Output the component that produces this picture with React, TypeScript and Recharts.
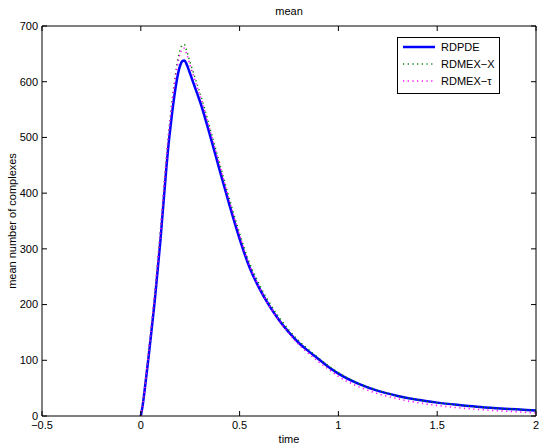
import React from 'react';
import { LineChart, Line, XAxis, YAxis, Legend } from 'recharts';

// sample times
const times = [
  0, 0.01, 0.02, 0.03, 0.04, 0.05, 0.06, 0.07, 0.08, 0.09, 0.1, 0.11, 0.12, 0.13, 0.14, 0.15,
  0.16, 0.17, 0.18, 0.19, 0.2, 0.21, 0.22, 0.23, 0.24, 0.25, 0.26, 0.27, 0.28, 0.29, 0.3,
  0.35, 0.4, 0.45, 0.5, 0.55, 0.6, 0.65, 0.7, 0.75, 0.8, 0.85, 0.9, 0.95, 1.0,
  1.1, 1.2, 1.3, 1.4, 1.5, 1.6, 1.7, 1.8, 1.9, 2.0,
];

const rdpde = [
  0, 20, 48, 78, 108, 140, 172, 205, 242, 280, 318, 362, 405, 448, 486, 518,
  548, 575, 598, 617, 630, 637, 638, 633, 624, 614, 604, 594, 584, 574, 564,
  504, 440, 377, 318, 267, 229, 198, 172, 150, 131, 116, 102, 88, 76,
  58, 45, 36, 29, 24, 20, 16.5, 14, 12, 10,
];

const rdmexX = [
  0, 24, 52, 85, 116, 150, 183, 218, 256, 296, 336, 380, 424, 466, 505, 540,
  572, 600, 625, 645, 658, 666, 667, 658, 646, 634, 623, 612, 601, 590, 579,
  517, 452, 388, 328, 275, 236, 204, 177, 154, 135, 119, 104, 90, 78,
  59, 46, 36, 29, 24, 20, 16.5, 14, 12, 10,
];

const rdmexTau = [
  0, 22, 50, 83, 114, 148, 181, 215, 253, 292, 332, 376, 420, 462, 501, 535,
  566, 594, 618, 638, 651, 659, 660, 652, 641, 629, 618, 607, 596, 585, 575,
  513, 449, 384, 324, 270, 230, 198, 171, 148, 128, 112, 97, 84, 71,
  53, 40, 31, 24, 19, 15, 12, 9.5, 7.5, 5.5,
];

const xTicks = [-0.5, 0, 0.5, 1, 1.5, 2];
const yTicks = [0, 100, 200, 300, 400, 500, 600, 700];

const data = times.map((t, i) => ({
  t,
  pde: rdpde[i],
  mexX: rdmexX[i],
  mexTau: rdmexTau[i],
}));

const FONT = '"Liberation Sans", Arial, Helvetica, sans-serif';
const tickStyle = { fontSize: 11, fill: '#000', fontFamily: FONT };
const noLabel = () => '';

const LegendBox = () => (
  <svg width={104} height={58} style={{ display: 'block' }}>
    <rect x={0.5} y={0.5} width={102} height={56} fill="#fff" stroke="#000" strokeWidth={1} />
    <line x1={6} x2={38} y1={10} y2={10} stroke="#0000ff" strokeWidth={2.5} />
    <line x1={6} x2={38} y1={27} y2={27} stroke="#008000" strokeWidth={1.5} strokeDasharray="1.2 3.5" />
    <line x1={6} x2={38} y1={44} y2={44} stroke="#ff00ff" strokeWidth={1.5} strokeDasharray="1.2 3.5" />
    <text x={44} y={14} fontSize={11} fontFamily={FONT} fill="#000">RDPDE</text>
    <text x={44} y={31} fontSize={11} fontFamily={FONT} fill="#000">RDMEX−X</text>
    <text x={44} y={48} fontSize={11} fontFamily={FONT} fill="#000">RDMEX−τ</text>
  </svg>
);

export default function App() {
  return (
    <div style={{ position: 'absolute', left: 0, top: 0, width: 545, height: 448, background: '#fff' }}>
      <div
        style={{
          position: 'absolute', left: 42, width: 494, top: 4, textAlign: 'center',
          fontFamily: FONT, fontSize: 11, lineHeight: '14px', color: '#000',
        }}
      >
        mean
      </div>
      <LineChart width={545} height={448} data={data} margin={{ top: 25, right: 8, left: 0, bottom: 0 }}>
        <XAxis
          xAxisId="bottom"
          dataKey="t"
          type="number"
          domain={[-0.5, 2]}
          ticks={xTicks}
          allowDataOverflow
          height={32}
          tickSize={-5}
          tickMargin={10}
          tick={tickStyle}
          stroke="#000"
          tickFormatter={(v: number) => String(v).replace('-', '−')}
          label={{ value: 'time', position: 'insideBottom', offset: 5, style: { fontSize: 11, fontFamily: FONT, fill: '#000' } }}
        />
        <XAxis
          xAxisId="top"
          orientation="top"
          dataKey="t"
          type="number"
          domain={[-0.5, 2]}
          ticks={xTicks}
          allowDataOverflow
          height={1}
          tickSize={-5}
          tick={tickStyle}
          tickFormatter={noLabel}
          stroke="#000"
        />
        <YAxis
          yAxisId="left"
          type="number"
          domain={[0, 700]}
          ticks={yTicks}
          allowDataOverflow
          width={42}
          tickSize={-5}
          tickMargin={9}
          tick={tickStyle}
          stroke="#000"
          label={{
            value: 'mean number of complexes', angle: -90, position: 'insideLeft', offset: 12,
            style: { textAnchor: 'middle', fontSize: 11, fontFamily: FONT, fill: '#000' },
          }}
        />
        <YAxis
          yAxisId="right"
          orientation="right"
          type="number"
          domain={[0, 700]}
          ticks={yTicks}
          allowDataOverflow
          width={1}
          tickSize={-5}
          tick={tickStyle}
          tickFormatter={noLabel}
          stroke="#000"
        />
        <Legend
          layout="vertical"
          align="center"
          verticalAlign="middle"
          content={() => <LegendBox />}
          wrapperStyle={{ left: 397, top: 37, width: 104, height: 58 }}
        />
        {/* blue series sits on the top/right axes (same domains) so the box frame renders */}
        <Line
          xAxisId="top"
          yAxisId="right"
          dataKey="pde"
          name="RDPDE"
          type="monotone"
          stroke="#0000ff"
          strokeWidth={2.5}
          dot={false}
          isAnimationActive={false}
        />
        <Line
          xAxisId="bottom"
          yAxisId="left"
          dataKey="mexX"
          name="RDMEX-X"
          type="monotone"
          stroke="#008000"
          strokeWidth={1.5}
          strokeDasharray="1.2 3.5"
          dot={false}
          isAnimationActive={false}
        />
        <Line
          xAxisId="bottom"
          yAxisId="left"
          dataKey="mexTau"
          name="RDMEX-τ"
          type="monotone"
          stroke="#ff00ff"
          strokeWidth={1.5}
          strokeDasharray="1.2 3.5"
          dot={false}
          isAnimationActive={false}
        />
      </LineChart>
    </div>
  );
}
